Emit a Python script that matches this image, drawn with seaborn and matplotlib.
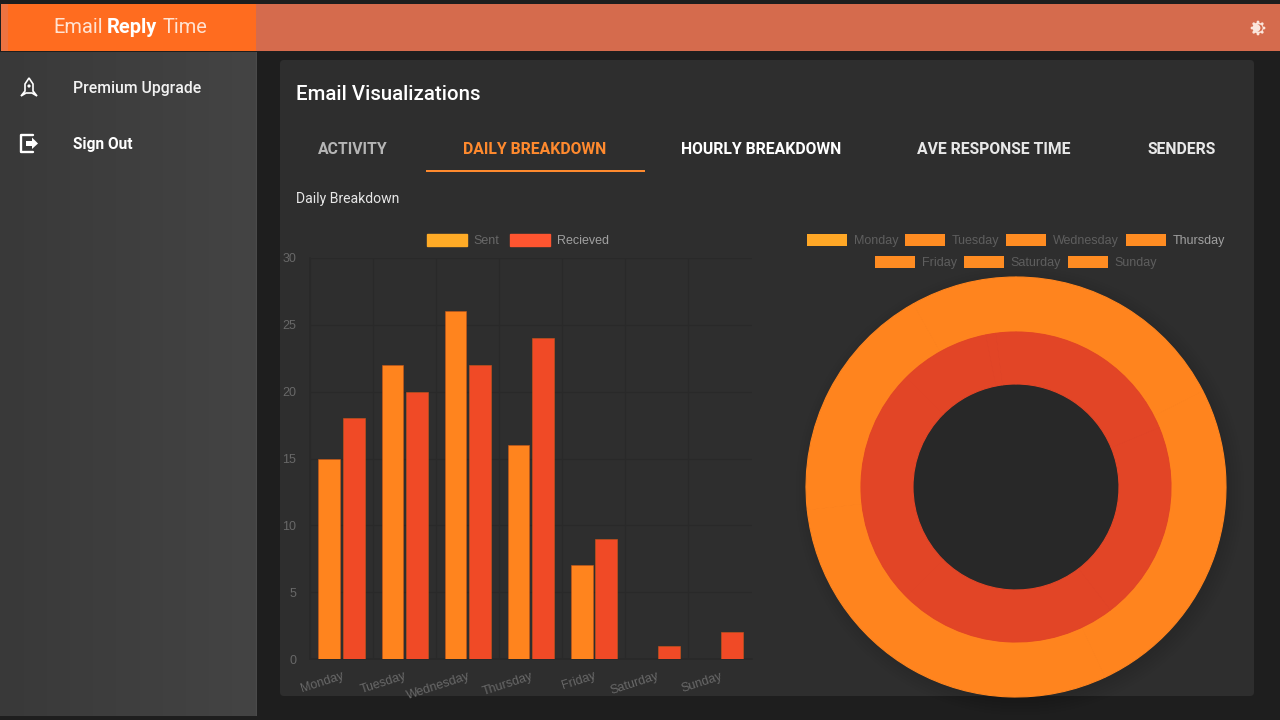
import numpy as np
import pandas as pd
import matplotlib.pyplot as plt
import seaborn as sns
from matplotlib.patches import Rectangle, FancyBboxPatch, Circle, Polygon, Patch

days = ["Monday", "Tuesday", "Wednesday", "Thursday", "Friday", "Saturday", "Sunday"]
sent = [15, 22, 26, 16, 7, 0, 0]
received = [18, 20, 22, 24, 9, 1, 2]
y_ticks = [0, 5, 10, 15, 20, 25, 30]
tabs = ["ACTIVITY", "DAILY BREAKDOWN", "HOURLY BREAKDOWN", "AVE RESPONSE TIME", "SENDERS"]

ORANGE = "#FF841E"
RED = "#F04A26"
RING_RED = "#E24526"
MUTED = "#686868"
GRID = "#292929"

sns.set_theme(style="dark", rc={"axes.facecolor": "none", "figure.facecolor": "#1E1E1E",
                                "savefig.facecolor": "#1E1E1E"})
plt.rcParams["font.family"] = ["Roboto", "DejaVu Sans"]

W, H = 1280, 720
fig = plt.figure(figsize=(W / 100, H / 100), dpi=100)


def px_axes(left, top, right, bottom):
    return fig.add_axes([left / W, 1 - bottom / H, (right - left) / W, (bottom - top) / H])


def px(size):
    return size * 0.72


# page chrome, drawn in pixel coordinates
bg = fig.add_axes([0, 0, 1, 1], zorder=0)
sidebar = np.linspace(0, 1, 256).reshape(1, -1)
bg.imshow(sidebar, extent=[0, 256, 716, 52], cmap=sns.blend_palette(["#393939", "#444444"], as_cmap=True),
          aspect="auto", zorder=1)
bg.set_xlim(0, W)
bg.set_ylim(H, 0)
bg.axis("off")
bg.add_patch(Rectangle((256, 52), 1, 664, color="#4A4A4A", lw=0, zorder=2))
bg.add_patch(Rectangle((256, 4), 1024, 47, color="#D56B4D", lw=0, zorder=2))
bg.add_patch(Rectangle((1, 4), 255, 47, color="#FF6C1F", lw=0, zorder=3))
bg.add_patch(Rectangle((1, 4), 7, 47, color="#EE7340", lw=0, zorder=3))
bg.add_patch(FancyBboxPatch((284, 64), 966, 628, boxstyle="round,pad=4", color="#2E2E2E", lw=0, zorder=2))

# donut shadow
for r in range(224, 208, -3):
    bg.add_patch(Circle((1020, 491), r, color="black", alpha=0.018, lw=0, zorder=3))

bg.text(53, 27.5, "Email", color="#FFE3D2", fontsize=px(20), va="center", zorder=5)
bg.text(107, 27.5, "Reply", color="white", fontsize=px(20), fontweight="bold", va="center", zorder=5)
bg.text(163, 27.5, "Time", color="#FFE3D2", fontsize=px(20), va="center", zorder=5)
bg.text(73, 88, "Premium Upgrade", color="#F2F2F2", fontsize=px(15.7), fontweight="medium", va="center", zorder=5)
bg.text(73, 144, "Sign Out", color="white", fontsize=px(15.5), fontweight="bold", va="center", zorder=5)
bg.text(296, 94, "Email Visualizations", color="white", fontsize=px(20.4), fontweight="medium", va="center", zorder=5)
bg.text(296, 199, "Daily Breakdown", color="#E6E6E6", fontsize=px(14), va="center", zorder=5)

tab_x = [352.5, 535, 761, 994, 1181.5]
tab_colors = ["#B5B5B5", "#FF8A2E", "white", "#E8E8E8", "#E8E8E8"]
for label, x, c in zip(tabs, tab_x, tab_colors):
    bg.text(x, 149, label, color=c, fontsize=px(15.8), fontweight="bold", ha="center", va="center", zorder=5)
bg.add_patch(Rectangle((426, 170), 219, 2, color="#FF8A2E", lw=0, zorder=5))

# rocket icon
bg.add_patch(Polygon([(29, 78), (33, 84), (33, 91), (37, 96), (32, 93), (26, 93), (21, 96), (25, 91), (25, 84)],
                     closed=True, fill=False, ec="white", lw=1.2, zorder=5))
bg.add_patch(Circle((29, 86), 1.6, color="white", lw=0, zorder=5))
# sign out icon
bg.plot([33, 21, 21, 33], [135, 135, 152, 152], color="white", lw=1.7, zorder=5)
bg.add_patch(Polygon([(26, 141), (32, 141), (32, 137.5), (38, 143.5), (32, 149), (32, 146), (26, 146)],
                     closed=True, color="white", lw=0, zorder=5))
# theme icon
bg.add_patch(Circle((1258, 28), 5.5, color="#FBE6DC", lw=0, zorder=5))
for a in np.arange(0, 360, 45):
    bg.add_patch(Circle((1258 + 6 * np.cos(np.radians(a)), 28 + 6 * np.sin(np.radians(a))), 1.4,
                        color="#FBE6DC", lw=0, zorder=5))
bg.add_patch(Circle((1259, 28), 3.6, color="#D56B4D", lw=0, zorder=6))
bg.add_patch(Circle((1256.8, 28), 3.6, color="#FBE6DC", lw=0, zorder=7))

# bar chart
df = pd.DataFrame({"day": days * 2, "count": sent + received,
                   "series": ["Sent"] * len(days) + ["Recieved"] * len(days)})
ax = px_axes(310, 258, 752, 659)
ax.set_zorder(2)
sns.barplot(data=df, x="day", y="count", hue="series", order=days, hue_order=["Sent", "Recieved"],
            palette=[ORANGE, RED], width=0.77, gap=0.1, saturation=1, legend=False, ax=ax, zorder=3)
ax.set_xlim(-0.49, 6.51)
ax.set_ylim(0, 30)
ax.set_yticks(y_ticks)
ax.set_xlabel("")
ax.set_ylabel("")
ax.set_xticks(np.arange(7) - 0.5, minor=True)
ax.xaxis.grid(True, which="minor", color=GRID, lw=1)
ax.yaxis.grid(True, color=GRID, lw=1)
ax.tick_params(axis="x", which="major", length=0, pad=8, colors=MUTED)
ax.tick_params(axis="x", which="minor", length=0)
ax.tick_params(axis="y", length=0, pad=10, colors=MUTED)
for lab in ax.get_xticklabels():
    lab.set(rotation=18, ha="right", rotation_mode="anchor", fontsize=px(12.5), family="Liberation Sans")
for lab in ax.get_yticklabels():
    lab.set(fontsize=px(12.5), family="Liberation Sans")
for side in ["top", "right"]:
    ax.spines[side].set_visible(False)
for side in ["left", "bottom"]:
    ax.spines[side].set_color(GRID)
for bar in ax.patches:
    bar.set_edgecolor("#C8561A")
    bar.set_linewidth(0.4)

swatch = dict(handlelength=3.2, handleheight=1.05, frameon=False, handletextpad=0.55,
              prop={"family": "Liberation Sans", "size": px(12.5)})
leg = ax.legend(handles=[Patch(fc="#FFAB26", ec="#FFAB26", label="Sent"), Patch(fc="#FF5530", ec="#FF5530", label="Recieved")],
                ncol=2, loc="center", bbox_to_anchor=(0.47, 1.043), borderaxespad=0, columnspacing=0.8, **swatch)
leg.get_texts()[0].set_color(MUTED)
leg.get_texts()[1].set_color("#A0A0A0")

# donut
dx = px_axes(806, 277, 1226, 697)
dx.set_zorder(2)
dx.pie(sent, radius=1, colors=[ORANGE] * 7, startangle=90, counterclock=False,
       wedgeprops=dict(width=55 / 210, lw=0.8, ec=ORANGE))
dx.pie(received, radius=155 / 210, colors=[RING_RED] * 7, startangle=90, counterclock=False,
       wedgeprops=dict(width=52 / 210, lw=0.8, ec=RING_RED))
dx.set_xlim(-1, 1)
dx.set_ylim(-1, 1)

row1 = [Patch(fc="#FFA726" if d == "Monday" else "#FF8C22", lw=0, label=d) for d in days[:4]]
row2 = [Patch(fc="#FF8C22", lw=0, label=d) for d in days[4:]]
leg1 = dx.legend(handles=row1, ncol=4, loc="center", bbox_to_anchor=(0.5, 1.087), borderaxespad=0,
                 columnspacing=0.55, **swatch)
leg2 = dx.legend(handles=row2, ncol=3, loc="center", bbox_to_anchor=(0.5, 1.034), borderaxespad=0,
                 columnspacing=0.55, **swatch)
dx.add_artist(leg1)
for t in leg1.get_texts() + leg2.get_texts():
    t.set_color("#5E5E5E")
leg1.get_texts()[3].set_color("#A0A0A0")

fig.savefig("out.png", dpi=100)
